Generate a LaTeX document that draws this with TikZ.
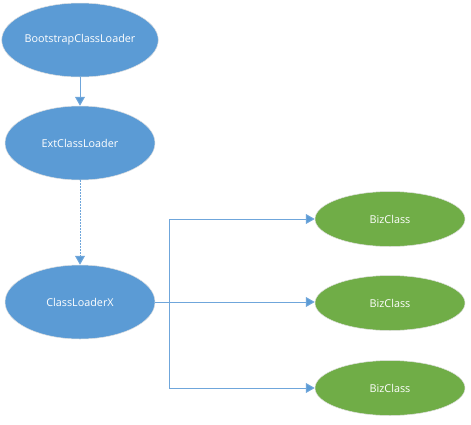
\documentclass[tikz,border=0pt]{standalone}
\usepackage{fontspec}
\setmainfont{Open Sans}
\usetikzlibrary{arrows.meta,shapes.geometric}
\definecolor{offblue}{HTML}{5B9BD5}
\definecolor{offgreen}{HTML}{70AD47}
\definecolor{linkblue}{HTML}{6FA6DB}
\begin{document}
\begin{tikzpicture}[x=1pt,y=-1pt,
  bluenode/.style={ellipse,fill=offblue,draw=black!12,line width=0.5pt,minimum width=150pt,minimum height=74pt,inner sep=0pt,text=white,font=\fontsize{10.8}{12}\selectfont},
  greennode/.style={ellipse,fill=offgreen,draw=black!12,line width=0.5pt,minimum width=150pt,minimum height=55pt,inner sep=0pt,text=white,font=\fontsize{10.8}{12}\selectfont},
  tip/.tip={Triangle[width=10pt,length=9pt,fill=offblue]},
  link/.style={draw=linkblue,line width=1pt,-tip},
  dotlink/.style={link,dash pattern=on 1.5pt off 1.5pt}]
\useasboundingbox (0,0) rectangle (471,424);
\node[bluenode] (boot) at (80,40) {BootstrapClassLoader};
\node[bluenode] (ext) at (80,143) {ExtClassLoader};
\node[bluenode] (clx) at (80,302) {ClassLoaderX};
\node[greennode] (biz1) at (390,219) {BizClass};
\node[greennode] (biz2) at (390,303) {BizClass};
\node[greennode] (biz3) at (390,388) {BizClass};
\coordinate (j) at (169,302);
\draw[link] (boot) -- (ext);
\draw[dotlink] (ext) -- (clx);
\draw[link] (clx.east) -- (biz2.west |- clx.east);
\draw[link] (j) |- (biz1);
\draw[link] (j) |- (biz3);
\end{tikzpicture}
\end{document}
